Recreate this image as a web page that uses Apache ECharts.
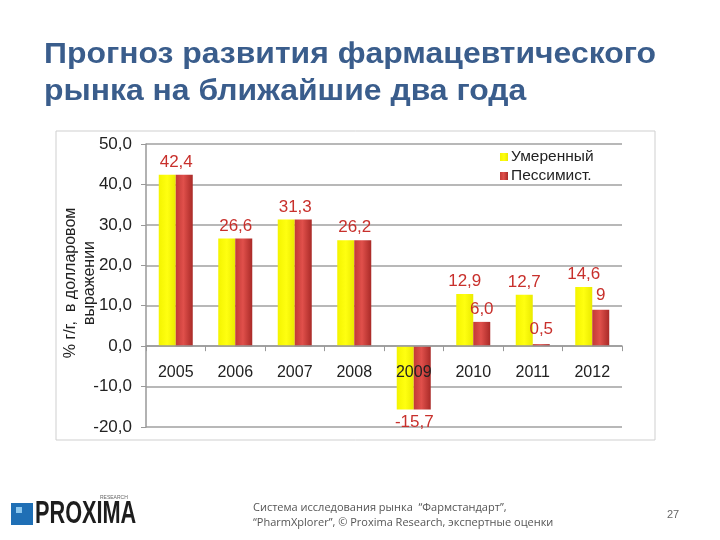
<!DOCTYPE html>
<html><head><meta charset="utf-8">
<script src="https://cdn.jsdelivr.net/npm/echarts@6/dist/echarts.min.js"></script>
<style>html,body{margin:0;padding:0;background:#fff}#c{width:720px;height:540px}</style>
</head><body><div id="c"></div>
<script>
const years = ['2005','2006','2007','2008','2009','2010','2011','2012'];
const moderate = [42.4, 26.6, 31.3, 26.2, -15.7, 12.9, 12.7, 14.6];
const pessimist = [42.4, 26.6, 31.3, 26.2, -15.7, 6.0, 0.5, 9];
const pessimistLabels = [null, null, null, null, null, '6,0', '0,5', '9'];
const yTicks = {min: -20, max: 50, interval: 10};
const seriesNames = ['Умеренный', 'Пессимист.'];
const yAxisTitle = '% г/г,  в долларовом\nвыражении';

const fmt = v => v.toFixed(1).replace('.', ',');
const labelColor = '#c8302c';
const FONT = 'Liberation Sans, Arial, sans-serif';

const gridTop = 144, gridBottomPx = 427;
const zeroOffset = -(gridBottomPx - gridTop) * (0 - yTicks.min) / (yTicks.max - yTicks.min);

const yellow = {type:'linear',x:0,y:0,x2:1,y2:0,colorStops:[{offset:0,color:'#f4f400'},{offset:0.5,color:'#ffff10'},{offset:1,color:'#eaea00'}]};
const red = {type:'linear',x:0,y:0,x2:1,y2:0,colorStops:[{offset:0,color:'#c23a36'},{offset:0.45,color:'#e0504b'},{offset:1,color:'#a92a27'}]};

const modData = moderate.map((v,i) => {
  const pair = pessimistLabels[i] === null;
  return {
    value: v,
    label: {
      show: true,
      position: v < 0 ? 'bottom' : 'top',
      offset: pair ? [9, 0] : [0, 0],
      formatter: fmt(v)
    }
  };
});
const pesData = pessimist.map((v,i) => ({
  value: v,
  label: {
    show: pessimistLabels[i] !== null,
    position: 'top',
    offset: (i === 6 || i === 7) ? [0, -2] : [0, 0],
    formatter: pessimistLabels[i] || ''
  }
}));

const chart = echarts.init(document.getElementById('c'), null, {renderer:'canvas'});
chart.setOption({
  animation: false,
  textStyle: {fontFamily: FONT},
  legend: {
    orient: 'vertical', left: 495, top: 144,
    itemWidth: 8, itemHeight: 8, itemGap: 3,
    icon: 'rect',
    textStyle: {fontSize: 15.5, color: '#222', fontFamily: FONT, padding: [0,0,0,-2]},
    data: seriesNames
  },
  grid: {left: 146, right: 98, top: gridTop, bottom: 540 - gridBottomPx, containLabel: false},
  xAxis: {
    type: 'category', data: years,
    offset: zeroOffset,
    z: 10,
    axisLine: {onZero: false, lineStyle: {color: '#999', width: 1.5}},
    axisTick: {show: true, length: 5, lineStyle: {color: '#999'}},
    axisLabel: {fontSize: 16, color: '#222', margin: 18, fontFamily: FONT}
  },
  yAxis: {
    type: 'value', min: yTicks.min, max: yTicks.max, interval: yTicks.interval,
    axisLine: {show: true, lineStyle: {color: '#999', width: 1.5}},
    axisTick: {show: true, length: 5, lineStyle: {color: '#999'}},
    axisLabel: {fontSize: 17, color: '#222', margin: 14, formatter: v => fmt(v), fontFamily: FONT},
    splitLine: {lineStyle: {color: '#a0a0a0', width: 1.5}}
  },
  series: [
    {name: seriesNames[0], type: 'bar', data: modData, barWidth: 17, barGap: '0%',
     itemStyle: {color: yellow},
     label: {color: labelColor, fontSize: 17, distance: 4, fontFamily: FONT}},
    {name: seriesNames[1], type: 'bar', data: pesData, barWidth: 17, barGap: '0%',
     itemStyle: {color: red},
     label: {color: labelColor, fontSize: 17, distance: 4, fontFamily: FONT}}
  ],
  graphic: [
    {type: 'text', x: 44, y: 36, scaleX: 1.1, style: {text: 'Прогноз развития фармацевтического\nрынка на ближайшие два года', font: 'bold 29px "Liberation Sans", Arial, sans-serif', fill: '#3a5d8c', lineHeight: 37}},
    {type: 'text', x: 80, y: 283, rotation: Math.PI / 2, style: {text: yAxisTitle, font: '16px "Liberation Sans", Arial, sans-serif', fill: '#222', lineHeight: 19, align: 'center', verticalAlign: 'middle'}},
    {type: 'rect', shape: {x: 56, y: 131, width: 599, height: 309}, style: {fill: 'none', stroke: '#cfcfcf', lineWidth: 1}, z: -1},
    {type: 'rect', shape: {x: 11, y: 503, width: 22, height: 22}, style: {fill: '#1f6fb5'}},
    {type: 'rect', shape: {x: 16, y: 507, width: 6, height: 6}, style: {fill: '#8cc8f0'}},
    {type: 'text', x: 35, y: 499, scaleX: 0.7, style: {text: 'PROXIMA', font: 'bold 31px "Liberation Sans", sans-serif', fill: '#1d1d1d'}},
    {type: 'text', x: 100, y: 495, style: {text: 'RESEARCH', font: '5px sans-serif', fill: '#666'}},
    {type: 'text', x: 253, y: 500, style: {text: 'Система исследования рынка  “Фармстандарт”,\n“PharmXplorer”, © Proxima Research, экспертные оценки', font: '11px "Liberation Sans Narrow", "Open Sans", sans-serif', fill: '#555', lineHeight: 15}},
    {type: 'text', x: 667, y: 509, style: {text: '27', font: '11px sans-serif', fill: '#666'}}
  ]
});
</script></body></html>
